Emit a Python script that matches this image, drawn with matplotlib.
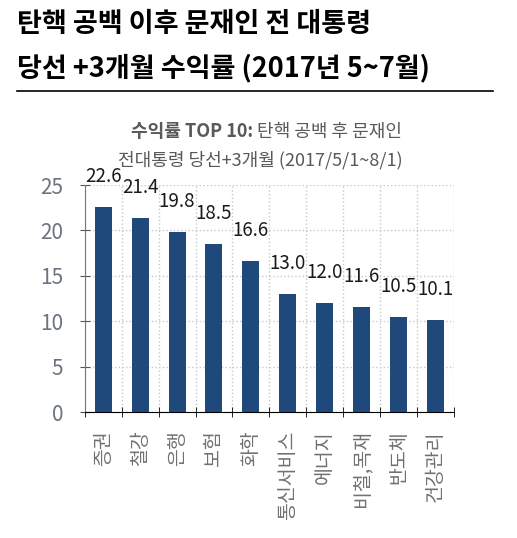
import matplotlib
matplotlib.use('Agg')
import matplotlib.pyplot as plt
import numpy as np

plt.rcParams['font.family'] = ['Noto Sans CJK KR', 'DejaVu Sans']

# data
sectors = ['증권', '철강', '은행', '보험', '화학', '통신서비스', '에너지', '비철,목재', '반도체', '건강관리']
returns = [22.6, 21.4, 19.8, 18.5, 16.6, 13.0, 12.0, 11.6, 10.5, 10.1]
yticks = [0, 5, 10, 15, 20, 25]

fig = plt.figure(figsize=(5.17, 5.38), dpi=100)

# title
fig.text(0.033, 0.955, '탄핵 공백 이후 문재인 전 대통령', fontsize=19.5, fontweight='bold', va='center', ha='left')
fig.text(0.033, 0.874, '당선 +3개월 수익률 (2017년 5~7월)', fontsize=19.5, fontweight='bold', va='center', ha='left')
fig.add_artist(plt.Line2D([0.033, 0.954], [0.831, 0.831], color='black', lw=1.2))

# subtitle
fig.text(0.497, 0.755, '수익률 TOP 10: ', fontsize=13, fontweight='bold', color='#595959', ha='right', va='center')
fig.text(0.497, 0.755, '탄핵 공백 후 문재인', fontsize=13, color='#595959', ha='left', va='center')
fig.text(0.503, 0.702, '전대통령 당선+3개월 (2017/5/1~8/1)', fontsize=13, color='#595959', ha='center', va='center')

ax = fig.add_axes([0.164, 0.234, 0.714, 0.422])
x = np.arange(len(sectors))
ax.bar(x, returns, width=0.46, color='#20497b', zorder=3)

for xi, v in zip(x, returns):
    ax.text(xi, v + 2.2, f'{v:.1f}', ha='center', va='bottom', fontsize=13.5, color='#1a1a1a', clip_on=False)

ax.set_xlim(-0.5, len(sectors) - 0.5)
ax.set_ylim(0, 25)
ax.set_yticks(yticks)
ax.set_xticks(x)
ax.set_xticklabels(sectors, rotation=90, fontsize=14, color='#707070', va='top')
ax.set_xticks(np.arange(-0.5, len(sectors)), minor=True)
ax.tick_params(axis='x', which='major', length=0, pad=13)
ax.tick_params(axis='x', which='minor', direction='inout', length=7, color='black')
ax.tick_params(axis='y', direction='inout', length=7, color='#555555', labelsize=15, labelcolor='#6b7480', pad=12)

ax.grid(True, axis='y', which='major', linestyle=':', color='#c8c8c8', lw=1, zorder=0)
ax.grid(True, axis='x', which='minor', linestyle=':', color='#c8c8c8', lw=1, zorder=0)
ax.spines['top'].set_visible(False)
ax.spines['right'].set_visible(False)
ax.spines['left'].set_color('#777777')
ax.spines['bottom'].set_color('black')

fig.savefig('out.png', dpi=100)
